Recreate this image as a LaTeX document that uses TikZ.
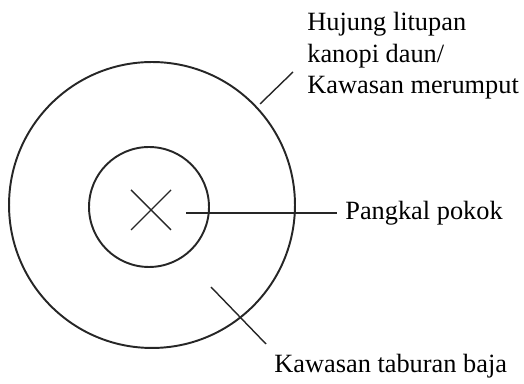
\documentclass[tikz,border=0pt]{standalone}
\usepackage{fontspec}
\setmainfont{Liberation Serif}
\usetikzlibrary{positioning,shapes.geometric,calc}
\tikzset{
  leadline/.style={line width=0.8pt, draw=black!85},
  every node/.style={anchor=center}
}

\begin{document}
\begin{tikzpicture}[
  x=0.02cm, y=-0.02cm,
  ring/.style={circle, draw=black!85, line width=1.1pt, inner sep=0pt},
  lbl/.style={inner sep=0pt, align=left, font=\fontsize{15}{18.2}\selectfont}
]
\useasboundingbox (0,0) rectangle (524,384);

% circles and the stem mark
\node[ring, minimum size=5.72cm] (outer) at (152,205) {};
\node[ring, minimum size=2.40cm] (inner) at (149,207) {};
\coordinate (stem) at (151,210);
\draw[leadline] ($(stem)+(-20,-20)$) -- ($(stem)+(20,20)$);
\draw[leadline] ($(stem)+(-20,20)$) -- ($(stem)+(20,-20)$);

% labels (base = last line)
\node[lbl, anchor=base west] (canopy) at (307,94) {Hujung litupan\\kanopi daun/\\Kawasan merumput};
\node[lbl, anchor=west] (base) at (345,213) {Pangkal pokok};
\node[lbl, anchor=base west] (fert) at (274,373) {Kawasan taburan baja};

% leader lines
\coordinate (cA) at (260,104);
\coordinate (cB) at (293,72);
\coordinate (bA) at (186,213);
\coordinate (bB) at (337,213);
\coordinate (fA) at (211,287);
\coordinate (fB) at (266,344);
\draw[leadline] (cA) -- (cB);
\draw[leadline] (bA) -- (bB);
\draw[leadline] (fA) -- (fB);

\end{tikzpicture}
\end{document}
